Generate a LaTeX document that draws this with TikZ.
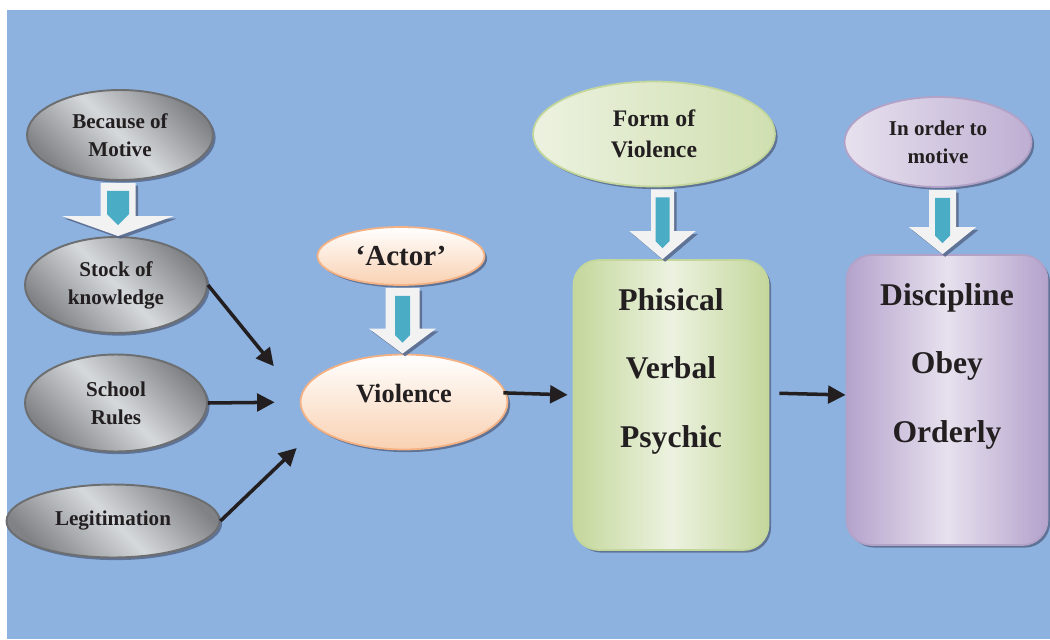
\documentclass[tikz,border=0pt]{standalone}
\usepackage{fontspec}
\setmainfont{Liberation Serif}
\usetikzlibrary{shapes.geometric,arrows.meta,calc,shadows}

\definecolor{bgblue}{RGB}{141,178,223}
\definecolor{ink}{RGB}{35,31,32}
\definecolor{shadowc}{RGB}{88,104,138}
\definecolor{greyline}{RGB}{109,110,112}
\definecolor{greydark}{RGB}{128,130,133}
\definecolor{greylight}{RGB}{214,217,220}
\definecolor{peachline}{RGB}{244,177,131}
\definecolor{peachfill}{RGB}{249,209,178}
\definecolor{greenline}{RGB}{195,214,155}
\definecolor{greendark}{RGB}{196,215,155}
\definecolor{greenlight}{RGB}{236,242,224}
\definecolor{lilacline}{RGB}{179,162,199}
\definecolor{lilacdark}{RGB}{180,162,204}
\definecolor{lilaclight}{RGB}{231,225,238}
\definecolor{arrowwhite}{RGB}{242,242,242}
\definecolor{teal}{RGB}{75,172,198}

\tikzset{
	softshadow/.style={drop shadow={shadow xshift=1.5pt, shadow yshift=-1.5pt, fill=shadowc, opacity=0.85}},
	oval/.style={ellipse, inner sep=0pt, align=center, text=ink, softshadow,
		font=\bfseries\fontsize{12}{16}\selectfont},
	greyoval/.style={oval, draw=greyline, line width=1.1pt,
		left color=greydark, right color=greydark, middle color=greylight, shading angle=135},
	peachoval/.style={oval, draw=peachline, line width=1pt,
		top color=white, bottom color=peachfill},
	greenoval/.style={oval, draw=greenline, line width=1pt,
		left color=greenlight, right color=greendark!70!greenlight},
	lilacoval/.style={oval, draw=lilacline, line width=1pt,
		left color=lilaclight, right color=lilacdark!80!lilaclight},
	listbox/.style={rectangle, rounded corners=0.5cm, line width=1pt, softshadow,
		minimum width=3.9cm, minimum height=5.8cm, shading angle=135},
	boxtext/.style={align=center, text=ink, font=\bfseries\fontsize{18}{39}\selectfont},
	link/.style={draw=ink, line width=2pt, -{Triangle[length=10pt,width=10pt]}},
	bigarrow/.style={fill=arrowwhite, softshadow},
}

% #1 upper node, #2 lower node, #3 shaft half width, #4 head half width,
% #5 head length, #6 half width of the teal core (all in px)
\newcommand{\bigdown}[6]{%
	\coordinate (m) at ($(#1.south)!.5!(#2.north)$);
	\coordinate (t) at (m |- #1.south);
	\coordinate (b) at (m |- #2.north);
	\fill[bigarrow] ($(t)+(-#3,2)$) -- ($(t)+(#3,2)$) -- ($(b)+(#3,-#5)$) -- ($(b)+(#4,-#5)$)
		-- (b) -- ($(b)+(-#4,-#5)$) -- ($(b)+(-#3,-#5)$) -- cycle;
	\fill[teal] ($(t)+(-#6,10)$) -- ($(t)+(#6,10)$) -- ($(b)+(#6,-11-#6)$) -- ($(b)+(0,-11)$)
		-- ($(b)+(-#6,-11-#6)$) -- cycle;
}

\begin{document}
\begin{tikzpicture}[x=0.02cm, y=-0.02cm]
	% fundo
	\useasboundingbox (0,0) rectangle (1050,639);
	\fill[white] (0,0) rectangle (1050,639);
	\fill[bgblue] (7,10) rectangle (1050,639);

	% coluna da esquerda
	\node[greyoval, minimum width=3.72cm, minimum height=1.8cm] (motive) at (120,135) {Because of\\Motive};
	\node[greyoval, minimum width=3.64cm, minimum height=1.92cm] (stock) at (116,285) {Stock of\\knowledge};
	\node[greyoval, minimum width=3.64cm, minimum height=1.94cm] (rules) at (116,403) {School\\Rules};
	\node[greyoval, minimum width=4.26cm, minimum height=1.46cm] (legit) at (113,521) {Legitimation};

	% actor e violencia
	\node[peachoval, minimum width=3.34cm, minimum height=1.16cm,
		font=\bfseries\fontsize{16.5}{20}\selectfont] (actor) at (401,256) {`Actor'};
	\node[peachoval, minimum width=4.14cm, minimum height=1.9cm, text depth=0.36cm,
		font=\bfseries\fontsize{15}{18}\selectfont] (violence) at (404,402) {Violence};

	% formas
	\node[greenoval, minimum width=4.84cm, minimum height=2.1cm,
		font=\bfseries\fontsize{13.5}{18}\selectfont] (form) at (654,134) {Form of\\Violence};
	\node[listbox, draw=greenline, left color=greendark, right color=greendark,
		middle color=greenlight] (forms) at (671,405) {};
	\node[boxtext] (formlist) at ($(forms.north)+(0,112)$) {Phisical\\Verbal\\Psychic};

	% objetivos
	\node[lilacoval, minimum width=3.74cm, minimum height=1.8cm] (order) at (938,142) {In order to\\motive};
	\node[listbox, draw=lilacline, left color=lilacdark, right color=lilacdark,
		middle color=lilaclight, minimum width=4.02cm] (aims) at (947,400) {};
	\node[boxtext] (aimlist) at ($(aims.north)+(0,112)$) {Discipline\\Obey\\Orderly};

	% setas largas
	\bigdown{motive}{stock}{17.5}{56}{20}{11}
	\bigdown{actor}{violence}{17}{33.5}{25}{7.5}
	\bigdown{form}{forms}{11.5}{33}{28}{7}
	\bigdown{order}{aims}{13.5}{33.5}{27}{7.5}

	% setas pretas
	\draw[link, shorten >=0.83cm] (stock.east) -- (violence.178);
	\draw[link, shorten >=0.5cm] (rules.east) -- (violence.west);
	\draw[link, shorten >=0.56cm] (legit.east) -- (violence.197);
	\draw[link, shorten <=-0.1cm, shorten >=0.1cm] ([yshift=0.18cm]violence.east) -- ([yshift=0.2cm]forms.west);
	\draw[link, shorten <=0.2cm] ([yshift=0.24cm]forms.east) -- ([yshift=0.1cm]aims.west);
\end{tikzpicture}
\end{document}
